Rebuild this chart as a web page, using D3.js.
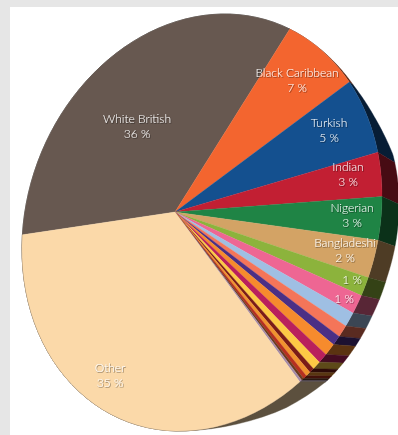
<!DOCTYPE html>
<html>
<head>
<meta charset="utf-8">
<title>Population by ethnic group</title>
<script src="https://cdn.jsdelivr.net/npm/d3@7/dist/d3.min.js"></script>
<style>
html, body { margin: 0; padding: 0; background: #fff; }
svg { display: block; }
text { font-family: Lato, "Open Sans", sans-serif; font-size: 12px; font-weight: 300; fill: #fff; text-anchor: middle; }
</style>
</head>
<body>
<svg id="chart" width="398" height="435"></svg>
<script>
// Shares in percent, clockwise from the start of the largest slice.
const groups = ["White British", "Black Caribbean", "Turkish", "Indian", "Nigerian", "Bangladeshi", "", "",
  "", "", "", "", "", "", "", "", "", "", "", "Other"];
const shares = [36, 7, 5, 3, 3, 2, 1, 1,
  1.2, 1, 0.8, 1, 0.8, 0.7, 0.4, 0.4, 0.3, 0.2, 0.2, 35];
const colours = ["#675850", "#f3652f", "#14508f", "#c21f33", "#1f8445", "#d3a365", "#8cb33c", "#ee6693",
  "#9fbfe3", "#f47559", "#4b2f85", "#f68b2d", "#b9205c", "#fcc945", "#7a1c17", "#f0932f", "#b6301f", "#6b3a1e", "#a58ba6", "#fbd9a9"];
const labelled = [0, 1, 2, 3, 4, 5, 6, 7, 19];

// Label centres for the labelled slices, in the order of the list above.
const labelSpots = [[137, 118], [297, 72], [329, 122], [348, 166], [352, 207], [345, 242], [352, 279], [344, 298], [110, 367]];

const svg = d3.select("#chart");

// Page backdrop: a grey frame along the top and left.
svg.append("rect").attr("width", 398).attr("height", 435).attr("fill", "#e6e6e6");
svg.append("rect").attr("x", 10).attr("y", 7).attr("width", 388).attr("height", 428).attr("fill", "#fff");

// The disc is seen in perspective: an oblique ellipse with the apex off centre.
const disc = { cx: 202, cy: 222.5, a: 180, b: -26.36, d: 206.8 };
const apex = [175, 212];
const rad = Math.PI / 180;
const rimPoint = t => [disc.cx + disc.a * Math.cos(t),
                       disc.cy + disc.b * Math.cos(t) + disc.d * Math.sin(t)];

// Cumulative share to direction on screen, foreshortened by the viewing angle.
const direction = d3.scaleLinear()
  .domain([0, 36, 43, 54, 58, 65, 100])
  .range([-188.5, -57.9, -36.7, 7.9, 29.6, 53.7, 171.5]);

// Parameter on the ellipse hit by a ray leaving the apex in the given direction.
function rimParam(deg) {
  const dx = Math.cos(deg * rad), dy = Math.sin(deg * rad);
  // Work in unit-circle coordinates, where the ellipse is the circle of radius one.
  const ux = (apex[0] - disc.cx) / disc.a;
  const uy = (apex[1] - disc.cy - disc.b * ux) / disc.d;
  const vx = dx / disc.a;
  const vy = (dy - disc.b * vx) / disc.d;
  const A = vx * vx + vy * vy, B = 2 * (ux * vx + uy * vy), C = ux * ux + uy * uy - 1;
  const s = (-B + Math.sqrt(B * B - 4 * A * C)) / (2 * A);
  return Math.atan2(uy + s * vy, ux + s * vx);
}

// Wall thickness around the rim, as an offset that depends on the ellipse parameter.
const wallDomain = [-62, -35, -25, -15, -2, 21, 33, 57, 71, 95];
const wallX = d3.scaleLinear().domain(wallDomain).range([0, 4, 10, 17, 17, 17, 19, 26, 22, 0]).clamp(true);
const wallY = d3.scaleLinear().domain(wallDomain).range([0, 3, 7, 11, 8, 5, 3, 0, 0, 0]).clamp(true);
const wallPoint = t => {
  const p = rimPoint(t);
  let deg = t / rad;
  while (deg < -180) deg += 360;
  while (deg > 180) deg -= 360;
  return [p[0] + wallX(deg), p[1] + wallY(deg)];
};

// Cumulative shares come from d3.pie, with the sort switched off to keep the order.
const percentOfTurn = angle => angle / (2 * Math.PI) * 100;
const slices = d3.pie().sort(null).value(d => d)(shares)
  .map((s, i) => {
    const t0 = rimParam(direction(percentOfTurn(s.startAngle)));
    let t1 = rimParam(direction(percentOfTurn(s.endAngle)));
    while (t1 < t0) t1 += 2 * Math.PI;
    return { i, t0, t1 };
  });

const line = d3.line();
const samples = s => d3.range(0, 41).map(k => s.t0 + (s.t1 - s.t0) * k / 40);

// Walls sit under the faces.
svg.append("g").selectAll("path").data(slices).join("path")
  .attr("d", s => {
    const ts = samples(s);
    return line(ts.map(rimPoint).concat(ts.slice().reverse().map(wallPoint))) + "Z";
  })
  .attr("fill", s => d3.color(colours[s.i]).darker(2.8).formatHex())
  .attr("stroke", s => d3.color(colours[s.i]).darker(2.8).formatHex())
  .attr("stroke-width", 0.4);

// Thin edge along the rim of the pale slice, which would otherwise fade into the page.
const paleSlice = slices[slices.length - 1];
svg.append("path")
  .attr("d", line(samples(paleSlice).map(rimPoint)))
  .attr("fill", "none").attr("stroke", "#8f7d68").attr("stroke-width", 1);

// Top faces of the slices.
svg.append("g").selectAll("path").data(slices).join("path")
  .attr("d", s => line([apex].concat(samples(s).map(rimPoint))) + "Z")
  .attr("fill", s => colours[s.i])
  .attr("stroke", s => colours[s.i])
  .attr("stroke-width", 0.3);

// Soft shadow behind the label text.
const shadow = svg.append("defs").append("filter").attr("id", "labelShadow")
  .attr("x", "-20%").attr("y", "-20%").attr("width", "140%").attr("height", "140%");
shadow.append("feDropShadow").attr("dx", 0.7).attr("dy", 0.8).attr("stdDeviation", 0.7)
  .attr("flood-color", "#000").attr("flood-opacity", 0.55);

const labels = svg.append("g").attr("filter", "url(#labelShadow)")
  .selectAll("g").data(labelled).join("g")
  .attr("transform", (d, k) => `translate(${labelSpots[k]})`);
labels.filter(d => groups[d] !== "").append("text")
  .attr("y", 4.5).text(d => groups[d]);
labels.append("text")
  .attr("y", d => groups[d] !== "" ? 19.5 : 4.5)
  .text(d => `${shares[d]} %`);
</script>
</body>
</html>
